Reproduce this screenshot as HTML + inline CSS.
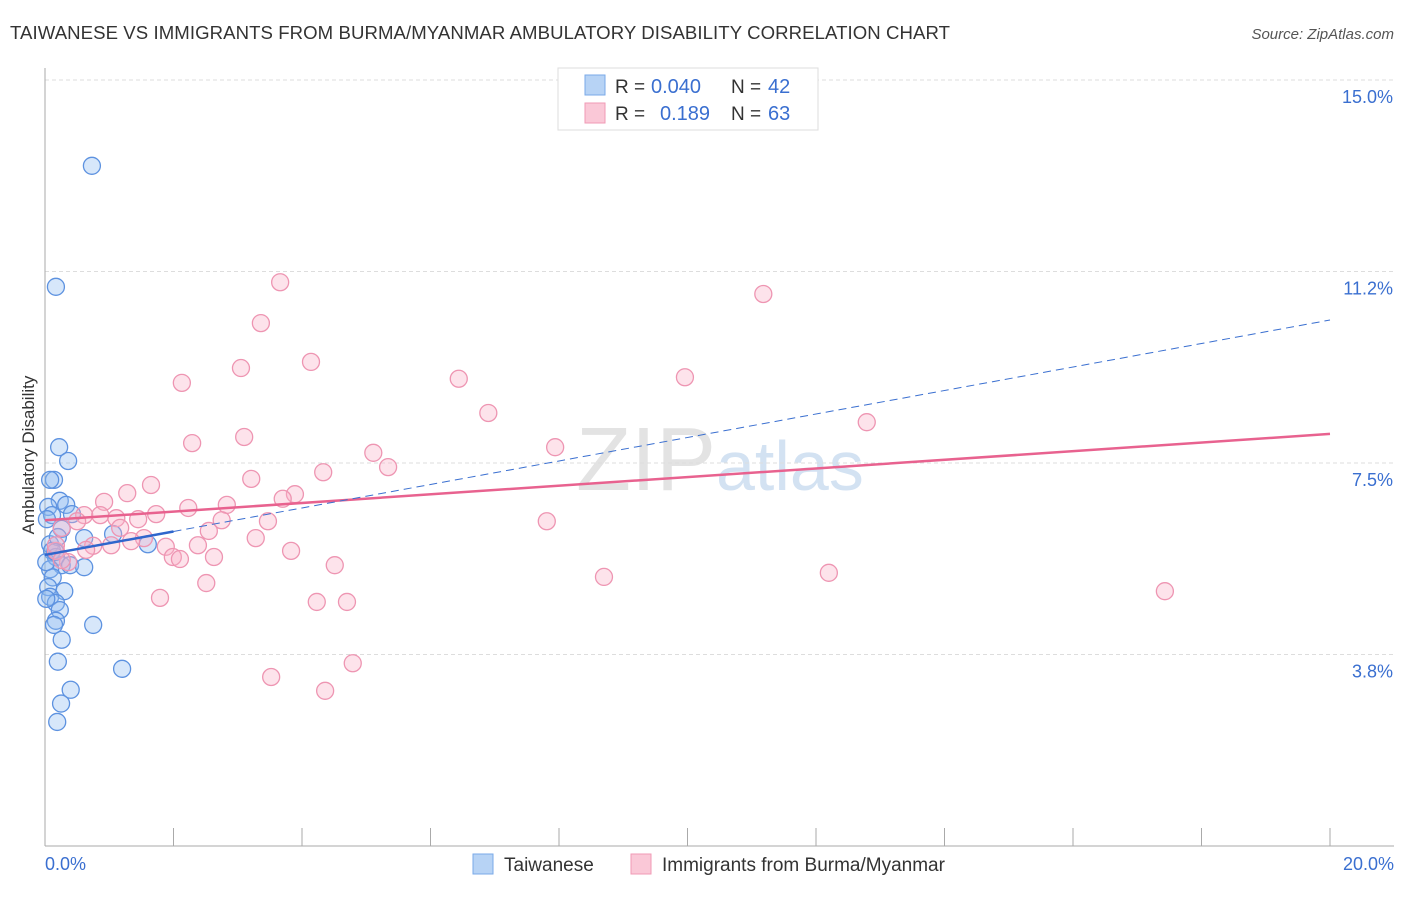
<!DOCTYPE html>
<html><head><meta charset="utf-8"><style>
body{margin:0;background:#fff;font-family:"Liberation Sans",sans-serif}
svg text{font-family:"Liberation Sans",sans-serif}
</style></head><body>
<svg id="c" width="1406" height="892">
<text x="10" y="39" font-size="18.6" fill="#333" textLength="940">TAIWANESE VS IMMIGRANTS FROM BURMA/MYANMAR AMBULATORY DISABILITY CORRELATION CHART</text>
<text x="1394" y="39" font-size="15" fill="#555" font-style="italic" text-anchor="end">Source: ZipAtlas.com</text>
<text x="716" y="490" font-size="90" fill="#ddd" font-family="Liberation Serif" text-anchor="end" opacity="0.8">ZIP</text>
<text x="716" y="490" font-size="70" fill="#c9dbf0" opacity="0.8">atlas</text>
<g id="grid"></g><g id="axes"></g><g id="pts"></g><g id="lines"></g>
<text transform="translate(34,455) rotate(-90)" font-size="17" fill="#333" text-anchor="middle">Ambulatory Disability</text>
<text x="45" y="870" font-size="18" fill="#3a6fd0">0.0%</text>
<text x="1394" y="870" font-size="18" fill="#3a6fd0" text-anchor="end">20.0%</text>
<g>
<rect x="558" y="68" width="260" height="62" fill="#fff" stroke="#ddd"/>
<rect x="585" y="75" width="20" height="20" fill="#b7d3f5" stroke="#7aaae8"/>
<text x="615" y="93" font-size="19" fill="#333">R =</text>
<text x="651" y="93" font-size="20" fill="#3a6fd0">0.040</text>
<text x="731" y="93" font-size="19" fill="#333">N =</text>
<text x="768" y="93" font-size="20" fill="#3a6fd0">42</text>
<rect x="585" y="103" width="20" height="20" fill="#fac8d7" stroke="#f09ab5"/>
<text x="615" y="120" font-size="19" fill="#333">R =</text>
<text x="660" y="120" font-size="20" fill="#3a6fd0">0.189</text>
<text x="731" y="120" font-size="19" fill="#333">N =</text>
<text x="768" y="120" font-size="20" fill="#3a6fd0">63</text>
</g>
<g>
<rect x="473" y="854" width="20" height="20" fill="#b7d3f5" stroke="#7aaae8"/>
<text x="504" y="871" font-size="19" fill="#333">Taiwanese</text>
<rect x="631" y="854" width="20" height="20" fill="#fac8d7" stroke="#f09ab5"/>
<text x="662" y="871" font-size="19" fill="#333">Immigrants from Burma/Myanmar</text>
</g>
</svg>
<script>
const yTicks=[15.0,11.25,7.5,3.75];
const yTickLabels=["15.0%","11.2%","7.5%","3.8%"];
const xTicks=[0,2,4,6,8,10,12,14,16,18,20];
const taiwaneseX=[0.73,0.17,0.22,0.36,0.14,0.23,0.33,0.42,0.05,0.11,0.26,0.61,1.06,1.60,0.08,0.11,0.17,0.26,0.39,0.61,0.08,0.12,0.05,0.30,0.08,0.17,0.23,0.17,0.14,0.75,0.26,0.20,1.20,0.40,0.25,0.19,0.02,0.08,0.03,0.02,0.20,0.16];
const taiwaneseY=[13.32,10.95,7.81,7.54,7.17,6.76,6.68,6.50,6.64,6.48,6.21,6.03,6.11,5.91,5.91,5.78,5.66,5.50,5.50,5.46,5.42,5.26,5.07,4.99,4.88,4.76,4.62,4.41,4.33,4.33,4.04,3.61,3.47,3.06,2.79,2.43,5.56,7.17,6.40,4.84,6.05,5.76];
const burmaX=[3.66,11.18,3.36,4.14,3.05,2.13,6.44,9.96,6.90,12.79,2.29,3.10,7.94,5.11,5.34,4.33,3.21,1.65,1.28,3.89,0.92,2.23,3.70,2.83,1.73,0.61,0.86,1.11,1.45,2.75,3.47,0.50,0.26,2.55,1.17,7.81,1.54,1.34,3.28,2.38,1.03,0.75,0.64,1.88,3.83,0.17,2.63,1.99,2.10,0.36,4.51,8.70,12.20,2.51,17.43,1.79,4.23,4.70,4.79,3.52,4.36,0.17,0.26];
const burmaY=[11.04,10.81,10.24,9.48,9.36,9.07,9.15,9.18,8.48,8.30,7.89,8.01,7.81,7.70,7.42,7.32,7.19,7.07,6.91,6.89,6.74,6.62,6.80,6.68,6.50,6.48,6.48,6.42,6.40,6.38,6.36,6.36,6.23,6.17,6.23,6.36,6.03,5.97,6.03,5.89,5.89,5.88,5.80,5.86,5.78,5.78,5.66,5.66,5.62,5.56,5.50,5.27,5.35,5.15,4.99,4.86,4.78,4.78,3.58,3.31,3.04,5.89,5.60];
const taiwaneseTrend=[5.70,10.30];
const burmaTrend=[6.38,8.07];
const NS="http://www.w3.org/2000/svg";
const X0=45,X1=1330,Y0=846;
function sx(v){return X0+(X1-X0)*v/20;}
function sy(v){return 80+(15-v)*51.07;}
function mk(tag,attrs,parent){const e=document.createElementNS(NS,tag);for(const k in attrs)e.setAttribute(k,attrs[k]);document.getElementById(parent).appendChild(e);return e;}
yTicks.forEach((t,i)=>{
 const g=mk('line',{x1:X0,x2:1394,y1:sy(t),y2:sy(t),stroke:'#ddd','stroke-dasharray':'4,3'},'grid');
 
 
 const tx=mk('text',{x:1393,y:sy(t)+23,'font-size':18,fill:'#3a6fd0','text-anchor':'end'},'grid');
 tx.textContent=yTickLabels[i];
 
 
});
const ya=mk('line',{x1:X0,x2:X0,y1:68,y2:Y0,stroke:'#aaa'},'axes');


const xa=mk('line',{x1:X0,x2:1394,y1:Y0,y2:Y0,stroke:'#aaa'},'axes');


xTicks.forEach(t=>{
 const l=mk('line',{x1:sx(t),x2:sx(t),y1:828,y2:Y0,stroke:'#aaa'},'axes');
 
 
});
taiwaneseX.forEach((v,i)=>{
 const c=mk('circle',{cx:sx(v),cy:sy(taiwaneseY[i]),r:8.5,fill:'rgba(140,185,240,0.35)',stroke:'#5d92e0','stroke-width':1.3},'pts');
 
 
});
burmaX.forEach((v,i)=>{
 const c=mk('circle',{cx:sx(v),cy:sy(burmaY[i]),r:8.5,fill:'rgba(248,175,198,0.35)',stroke:'#ee95b2','stroke-width':1.3},'pts');
 
 
});
const bl=mk('line',{x1:sx(0),y1:sy(burmaTrend[0]),x2:sx(20),y2:sy(burmaTrend[1]),stroke:'#e8628f','stroke-width':2.5},'lines');


const tEnd=taiwaneseTrend[0]+(taiwaneseTrend[1]-taiwaneseTrend[0])*2/20;
const td=mk('line',{x1:sx(2),y1:sy(tEnd),x2:sx(20),y2:sy(taiwaneseTrend[1]),stroke:'#3a6fd0','stroke-width':1,'stroke-dasharray':'8,5'},'lines');


const ts=mk('line',{x1:sx(0),y1:sy(taiwaneseTrend[0]),x2:sx(2),y2:sy(tEnd),stroke:'#2f66cc','stroke-width':2.5},'lines');


</script>
</body></html>
